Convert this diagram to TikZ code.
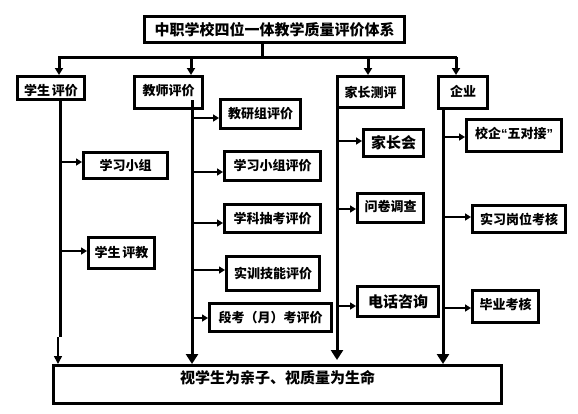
\documentclass[tikz,border=0pt]{standalone}
\usepackage{fontspec}
\newfontfamily\cjk{Noto Sans CJK SC}
\newfontfamily\lat{Liberation Sans}
\usetikzlibrary{arrows.meta,calc}
\newcommand\fb{\fontsize{15pt}{15pt}\selectfont}
\newcommand\bx[7][0]{\node[box,minimum width={#5-#3-3},minimum height={#6-#4-3}] (#2) at ({(#3+#5)/2},{(#4+#6)/2}) {\raisebox{#1pt}[\height][\depth]{#7}};}
\begin{document}
\begin{tikzpicture}[x=1pt,y=-1pt,
 box/.style={draw,line width=3pt,inner sep=0pt,font=\cjk\bfseries\fontsize{13pt}{13pt}\selectfont},
 bus/.style={line width=3pt},
 harr/.style={line width=2pt,-{Triangle[length=6pt,width=7pt]}},
 darr/.style={line width=3pt,-{Triangle[length=7pt,width=8pt]}},
 barr/.style={line width=3pt,-{Triangle[length=10pt,width=12pt]}},
 sarr/.style={line width=1.5pt,-{Triangle[length=8pt,width=8pt]}}]
\useasboundingbox (0,0) rectangle (578,413);
% boxes
\bx{title}{143}{15}{406}{44}{\fb 中职学校四位一体教学质量评价体系}
\bx[-3]{s1}{16}{75}{86}{101}{学生\hspace{2pt}评价}
\bx[1.5]{t1}{133}{75}{204}{110}{教师评价}
\bx{p1}{336}{75}{405}{109}{家长测评}
\bx[1]{c1}{437}{75}{489}{110}{企业}
\bx{s2}{82}{151}{169}{180}{学习小组}
\bx{s3}{87}{236}{156}{270}{学生\hspace{2pt}评教}
\bx{t2}{219}{98}{302}{130}{教研组评价}
\bx{t3}{223}{150}{322}{182}{学习小组评价}
\bx{t4}{223}{203}{322}{234}{学科抽考评价}
\bx{t5}{225}{255}{321}{292}{实训技能评价}
\bx{t6}{208}{302}{333}{333}{段考（月）考评价}
\bx{p2}{362}{128}{425}{158}{\fb 家长会}
\bx[1.5]{p3}{356}{192}{425}{224}{问卷调查}
\bx{p4}{356}{285}{440}{318}{\fb 电话咨询}
\bx[2.5]{c2}{465}{118}{563}{153}{校企{\lat\bfseries “}五对接{\lat\bfseries ”}}
\bx{c3}{471}{204}{567}{234}{实习岗位考核}
\bx[2.5]{c4}{471}{289}{540}{324}{毕业考核}
\bx[6.5]{bot}{52}{364}{503}{405}{\fb 视学生为亲子、视质量为生命}
% top distribution
\coordinate (tj) at (262,57);
\coordinate (hl) at (58,57);
\coordinate (hr) at (457,57);
\coordinate (a1) at (59,57);
\coordinate (a2) at (191,57);
\coordinate (a3) at (368,57);
\coordinate (a4) at (456,57);
\draw[bus] (title.south -| tj) -- (tj);
\draw[bus] (hl) -- (hr);
\draw[darr] (a1) -- (s1.north -| a1);
\draw[darr] (a2) -- (t1.north -| a2);
\draw[darr] (a3) -- (p1.north -| a3);
\draw[darr] (a4) -- (c1.north -| a4);
% student
\coordinate (sb) at (60,337);
\coordinate (sb2) at (58,337);
\draw[bus] (s1.south -| sb) -- (sb);
\draw[sarr] (sb2) -- (bot.north -| sb2);
\coordinate (sy1) at (60,162);
\coordinate (sy2) at (60,251);
\draw[harr] (sy1) -- (s2.west |- sy1);
\draw[harr] (sy2) -- (s3.west |- sy2);
% teacher
\coordinate (tb) at (192,100);
\draw[barr] (tb) -- (bot.north -| tb);
\coordinate (ty1) at (192,118);
\coordinate (ty2) at (192,172);
\coordinate (ty3) at (192,223);
\coordinate (ty4) at (192,270);
\coordinate (ty5) at (192,318);
\draw[harr] (ty1) -- (t2.west |- ty1);
\draw[harr] (ty2) -- (t3.west |- ty2);
\draw[harr] (ty3) -- (t4.west |- ty3);
\draw[harr] (ty4) -- (t5.west |- ty4);
\draw[harr] (ty5) -- (t6.west |- ty5);
% parent
\coordinate (pe) at (337,360);
\draw[barr] (p1.south -| pe) -- (pe);
\coordinate (py1) at (337,141);
\coordinate (py2) at (337,209);
\coordinate (py3) at (337,306);
\draw[harr] (py1) -- (p2.west |- py1);
\draw[harr] (py2) -- (p3.west |- py2);
\draw[harr] (py3) -- (p4.west |- py3);
% company
\coordinate (cb) at (443,0);
\draw[barr] (c1.south -| cb) -- (bot.north -| cb);
\coordinate (cy1) at (443,137);
\coordinate (cy2) at (443,217);
\coordinate (cy3) at (443,308);
\draw[harr] (cy1) -- (c2.west |- cy1);
\draw[harr] (cy2) -- (c3.west |- cy2);
\draw[harr] (cy3) -- (c4.west |- cy3);
\end{tikzpicture}
\end{document}
